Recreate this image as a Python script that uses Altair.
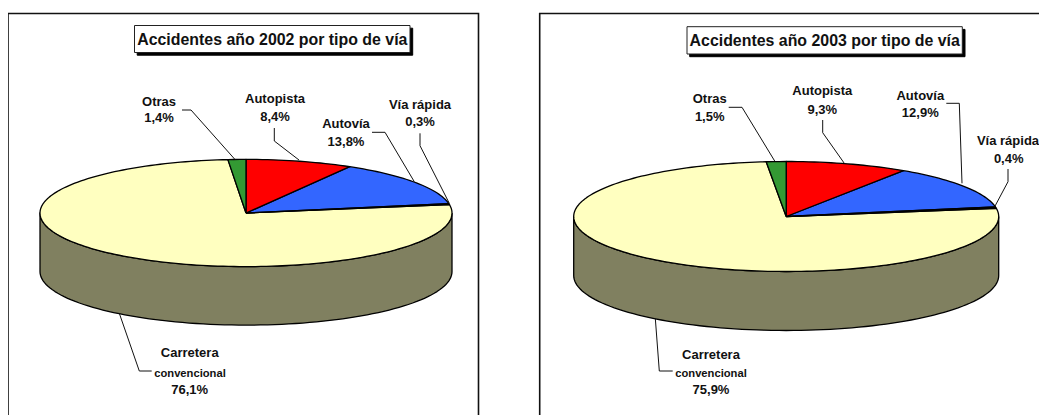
import math
import altair as alt
import pandas as pd

# ---- values ----
categories = ["Autopista", "Autovía", "Vía rápida", "Carretera", "Otras"]
shares_2002 = [8.4, 13.8, 0.3, 76.1, 1.4]
shares_2003 = [9.3, 12.9, 0.4, 75.9, 1.5]
titles = ["Accidentes año 2002 por tipo de vía", "Accidentes año 2003 por tipo de vía"]
slice_colors = ["#FF0000", "#3366FF", "#000000", "#FFFFC0", "#339933"]
wall_color = "#808060"

# ---- layout, in picture pixels ----
W, H = 1031, 407
X0, Y0 = 8, 8
PANELS = [
    dict(cx=246, cy=213, rx=206, ry=53.6, depth=58.5,
         frame=[(8, 415), (8, 13.5), (478.5, 13.5), (478.5, 415)],
         box=(134.5, 25.5, 410, 52.5), title=(272.3, 39.5),
         leaders=[
             [(274.3, 128), (274.3, 141), (299, 160)],
             [(372, 132.3), (385, 132.3), (414.3, 181.7)],
             [(420, 133.3), (420, 145.7), (449.3, 203.3)],
             [(119.3, 313.3), (139.3, 371), (151.7, 371)],
             [(182, 110), (191, 110), (235, 159.5)],
         ],
         labels=[
             ("Autopista", 275, 99), ("8,4%", 275, 117),
             ("Autovía", 346, 123.5), ("13,8%", 346, 142),
             ("Vía rápida", 420, 105), ("0,3%", 420, 122.3),
             ("Carretera", 189.7, 353.3), ("76,1%", 189.7, 389.5),
             ("Otras", 159, 102), ("1,4%", 159, 118.3),
         ],
         small=("convencional", 190, 373.5)),
    dict(cx=786.2, cy=216.5, rx=212.5, ry=55, depth=59,
         frame=[(1050, 13.5), (539.7, 13.5), (539.7, 415)],
         box=(687, 26.7, 962.3, 54), title=(824.7, 40.5),
         leaders=[
             [(822.7, 120), (822.7, 132.7), (844.3, 163.3)],
             [(946.3, 103.3), (959.3, 103.3), (962, 183.3)],
             [(1008, 169), (1008, 181.7), (994.7, 206.7)],
             [(655.3, 318.3), (659.3, 371), (672.7, 371)],
             [(728.7, 107.3), (742, 107.3), (774.7, 161)],
         ],
         labels=[
             ("Autopista", 822.3, 91), ("9,3%", 822.3, 109.6),
             ("Autovía", 920.3, 96), ("12,9%", 920.3, 113.3),
             ("Vía rápida", 1008, 141), ("0,4%", 1008.7, 158.6),
             ("Carretera", 711, 354.6), ("75,9%", 711, 389.5),
             ("Otras", 709.7, 99), ("1,5%", 709.7, 117.3),
         ],
         small=("convencional", 711, 373.5)),
]

polys, lines, rects, texts, small, heads = [], [], [], [], [], []
sid = 0


def add_poly(points, color):
    global sid
    for i, (x, y) in enumerate(points):
        polys.append(dict(id=sid, i=i, x=x, y=y, color=color))
    sid += 1


def add_line(points, width):
    global sid
    for i, (x, y) in enumerate(points):
        lines.append(dict(id=sid, i=i, x=x, y=y, width=width))
    sid += 1


for p, shares in zip(PANELS, [shares_2002, shares_2003]):
    cx, cy, rx, ry, d = p["cx"], p["cy"], p["rx"], p["ry"], p["depth"]

    def pt(deg, dy=0.0):
        a = math.radians(deg)
        return (cx + rx * math.sin(a), cy - ry * math.cos(a) + dy)

    top = [pt(a) for a in range(90, 271, 2)]
    bottom = [pt(a, d) for a in range(270, 89, -2)]
    add_poly(top + bottom + top[:1], wall_color)

    start = 0.0
    bounds = []
    for s in shares:
        bounds.append((start, start + s * 3.6))
        start += s * 3.6
    order = sorted(range(len(shares)), key=lambda k: -shares[k])
    for k in order:
        a0, a1 = bounds[k]
        n = max(2, int((a1 - a0) / 1.5))
        arc = [pt(a0 + (a1 - a0) * j / n) for j in range(n + 1)]
        add_poly([(cx, cy)] + arc + [(cx, cy)], slice_colors[k])

    for seg in p["leaders"]:
        add_line(seg, 1.0)
    add_line(p["frame"], 1.6)

    x0, y0, x1, y1 = p["box"]
    rects.append(dict(x=x0 + 2.7, y=y0 + 2.7, x2=x1 + 2.7, y2=y1 + 2.7, fill="#000000", stroke="#000000"))
    rects.append(dict(x=x0, y=y0, x2=x1, y2=y1, fill="#FFFFFF", stroke="#222222"))

    for t, x, y in p["labels"]:
        texts.append(dict(t=t, x=x, y=y))
    t, x, y = p["small"]
    small.append(dict(t=t, x=x, y=y))

for t, p in zip(titles, PANELS):
    heads.append(dict(t=t, x=p["title"][0], y=p["title"][1]))

xs = alt.Scale(domain=[X0, X0 + W], range=[0, W])
ys = alt.Scale(domain=[Y0, Y0 + H], range=[0, H])
X = alt.X("x:Q", scale=xs, axis=None)
Y = alt.Y("y:Q", scale=ys, axis=None)

shapes = alt.Chart(pd.DataFrame(polys)).mark_line(
    stroke="#000000", strokeWidth=1.3, strokeJoin="round", clip=True, interpolate="linear"
).encode(
    x=X, y=Y, order=alt.Order("i:Q"), detail="id:N",
    fill=alt.Fill("color:N", scale=None),
)

leader = alt.Chart(pd.DataFrame(lines)).mark_line(
    stroke="#111111", strokeJoin="miter", clip=True
).encode(
    x=X, y=Y, order=alt.Order("i:Q"), detail="id:N",
    strokeWidth=alt.StrokeWidth("width:Q", scale=None),
)

boxes = alt.Chart(pd.DataFrame(rects)).mark_rect(strokeWidth=1).encode(
    x=X, y=Y, x2="x2:Q", y2="y2:Q",
    fill=alt.Fill("fill:N", scale=None),
    stroke=alt.Stroke("stroke:N", scale=None),
)

FONT = "Liberation Sans"
base = dict(font=FONT, fontWeight="bold", align="center", baseline="middle", color="#111111")
head_text = alt.Chart(pd.DataFrame(heads)).mark_text(fontSize=15.9, **base).encode(x=X, y=Y, text="t:N")
label_text = alt.Chart(pd.DataFrame(texts)).mark_text(fontSize=13, **base).encode(x=X, y=Y, text="t:N")
small_text = alt.Chart(pd.DataFrame(small)).mark_text(fontSize=11.2, **base).encode(x=X, y=Y, text="t:N")

chart = alt.layer(shapes, leader, boxes, head_text, label_text, small_text).properties(
    width=W, height=H, padding=0, background="#FFFFFF",
    autosize=alt.AutoSizeParams(type="none"),
).configure_view(stroke=None)

chart.save("out.html", embed_options={"renderer": "svg", "actions": False})
